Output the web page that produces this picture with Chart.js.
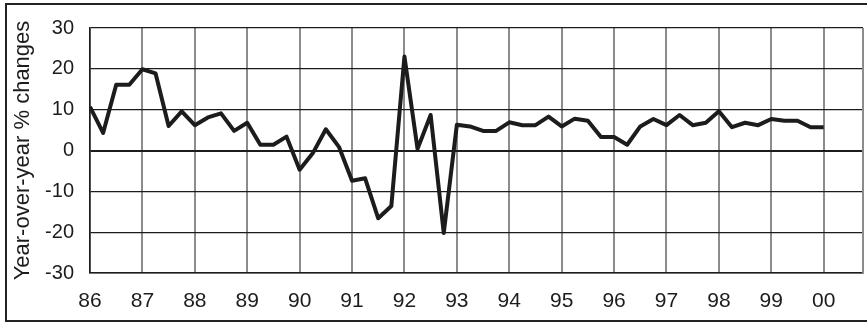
<!DOCTYPE html>
<html lang="en">
<head>
    <meta charset="UTF-8">
    <title>Year-over-year % changes</title>
    <script src="https://cdn.jsdelivr.net/npm/chart.js"></script>
    <style>
        html, body { margin: 0; padding: 0; background: #ffffff; }
        .wrap { position: relative; width: 867px; height: 323px; overflow: hidden; }
        .frame { position: absolute; left: 5px; top: 3px; width: 900px; height: 319px; box-sizing: border-box; border: 2px solid #222; pointer-events: none; }
        canvas { position: absolute; left: 0; top: 0; }
    </style>
</head>
<body>
    <div class="wrap">
        <canvas id="yoyChart" width="867" height="323"></canvas>
        <div class="frame"></div>
    </div>

    <script>
        // quarterly data, first quarter of 1986 to first quarter of 2000
        const firstYear = 86;
        const lastYear = 100;
        const yoyChange = [
            10.7, 4.3, 16.1, 16.1,
            19.9, 18.9, 6.0, 9.6,
            6.2, 8.1, 9.1, 4.8,
            6.8, 1.4, 1.4, 3.4,
            -4.7, -0.7, 5.2, 0.9,
            -7.4, -6.8, -16.6, -13.6,
            23.0, 0.4, 8.7, -20.2,
            6.3, 5.9, 4.8, 4.8,
            6.9, 6.2, 6.2, 8.3,
            5.9, 7.8, 7.3, 3.3,
            3.3, 1.4, 5.9, 7.7,
            6.2, 8.7, 6.2, 6.8,
            9.6, 5.7, 6.8, 6.2,
            7.7, 7.3, 7.3, 5.7,
            5.7
        ];
        const yTicks = [-30, -20, -10, 0, 10, 20, 30];
        const axisTitle = 'Year-over-year % changes';

        const points = yoyChange.map((v, i) => ({ x: firstYear + i / 4, y: v }));
        const yearTicks = [];
        for (let y = firstYear; y <= lastYear; y++) yearTicks.push({ value: y });

        // right edge of the plot box
        const rightEdge = {
            id: 'rightEdge',
            afterDraw(chart) {
                const { ctx, chartArea } = chart;
                ctx.save();
                ctx.strokeStyle = '#8c8c8c';
                ctx.lineWidth = 2;
                ctx.beginPath();
                ctx.moveTo(chartArea.right, chartArea.top);
                ctx.lineTo(chartArea.right, chartArea.bottom);
                ctx.stroke();
                ctx.restore();
            }
        };

        const font = 'Liberation Sans, Arial, sans-serif';

        new Chart(document.getElementById('yoyChart'), {
            type: 'line',
            data: {
                datasets: [{
                    data: points,
                    borderColor: '#1c1c1c',
                    borderWidth: 4,
                    borderJoinStyle: 'round',
                    pointRadius: 0,
                    tension: 0,
                    fill: false
                }]
            },
            options: {
                responsive: false,
                animation: false,
                layout: { padding: { top: 23, right: 4, left: 0, bottom: 0 } },
                plugins: { legend: { display: false }, tooltip: { enabled: false } },
                scales: {
                    x: {
                        type: 'linear',
                        min: firstYear,
                        max: lastYear + 0.75,
                        afterFit: s => { s.height = 50; },
                        afterBuildTicks: s => { s.ticks = yearTicks.slice(); },
                        grid: { color: '#8c8c8c', lineWidth: 2, drawTicks: false },
                        border: { color: '#1c1c1c', width: 1.5 },
                        ticks: {
                            padding: 16,
                            color: '#1c1c1c',
                            font: { family: font, size: 21 },
                            callback: v => String(v % 100).padStart(2, '0')
                        }
                    },
                    y: {
                        min: yTicks[0],
                        max: yTicks[yTicks.length - 1],
                        afterFit: s => { s.width = 90; },
                        afterBuildTicks: s => { s.ticks = yTicks.map(v => ({ value: v })); },
                        grid: {
                            color: '#1c1c1c',
                            lineWidth: c => (c.tick && c.tick.value === 0 ? 2 : 1.2),
                            drawTicks: false
                        },
                        border: { color: '#1c1c1c', width: 1.5 },
                        ticks: {
                            padding: 16,
                            color: '#1c1c1c',
                            font: { family: font, size: 20 }
                        },
                        title: {
                            display: true,
                            text: axisTitle,
                            color: '#1c1c1c',
                            padding: { top: 10, bottom: 0 },
                            font: { family: font, size: 22 }
                        }
                    }
                }
            },
            plugins: [rightEdge]
        });
    </script>
</body>
</html>
